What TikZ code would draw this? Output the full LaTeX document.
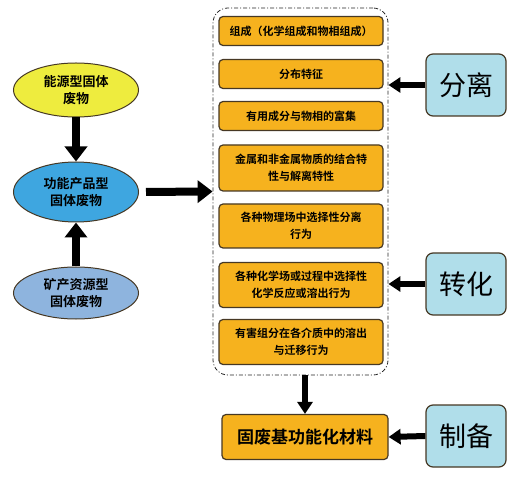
\documentclass[tikz,border=0pt]{standalone}
\usepackage{fontspec}
\usepackage{tikz}
\usetikzlibrary{arrows.meta, shapes.geometric}
\setmainfont{Noto Sans CJK SC}[BoldFont={Noto Sans CJK SC Bold}]

\definecolor{boxorange}{RGB}{246,178,30}
\definecolor{boxedge}{RGB}{70,56,36}
\definecolor{wasteyellow}{RGB}{238,236,62}
\definecolor{wasteblue}{RGB}{62,166,224}
\definecolor{wastegray}{RGB}{142,180,222}
\definecolor{stepblue}{RGB}{176,222,234}

\begin{document}
\begin{tikzpicture}[x = 1pt, y = -1pt, line width = 1pt,
                        waste/.style = {ellipse, draw = boxedge, minimum width = 125pt, align = center,
                                        font = \bfseries\fontsize{13}{17}\selectfont},
                        item/.style = {rectangle, rounded corners = 4pt, draw = boxedge, fill = boxorange,
                                       line width = 1.2pt, minimum width = 164pt, align = center,
                                       font = \bfseries\fontsize{11}{17}\selectfont},
                        stage/.style = {rectangle, rounded corners = 7pt, draw = boxedge, fill = stepblue,
                                        line width = 1.2pt, minimum width = 80pt, minimum height = 62pt,
                                        font = \fontsize{27}{30}\selectfont},
                        bigarrow/.style = {line width = 8pt, -{Triangle[width = 22pt, length = 15pt]}},
                        smallarrow/.style = {line width = 6pt, -{Triangle[width = 15pt, length = 12pt]}}]
      \useasboundingbox (0, 0) rectangle (519, 478);

      \node [waste, fill = wasteyellow, minimum height = 54pt] (energy) at (76, 90){能源型固体\\废物};
      \node [waste, fill = wasteblue, minimum height = 60pt] (product) at (76, 192){功能产品型\\固体废物};
      \node [waste, fill = wastegray, minimum height = 52pt] (mineral) at (76, 293){矿产资源型\\固体废物};

      \node [draw = black!85, rounded corners = 15pt, line width = 0.8pt,
             dash pattern = on 4pt off 2pt on 1pt off 2pt,
             minimum width = 175pt, minimum height = 367pt] (group) at (300.5, 191.5){};

      \node [item, minimum height = 29pt] (i1) at (301, 31){组成（化学组成和物相组成）};
      \node [item, minimum height = 29pt] (i2) at (301, 74){分布特征};
      \node [item, minimum height = 29pt] (i3) at (301, 116){有用成分与物相的富集};
      \node [item, minimum height = 46pt] (i4) at (301, 168){金属和非金属物质的结合特\\性与解离特性};
      \node [item, minimum height = 44pt] (i5) at (301, 226){各种物理场中选择性分离\\行为};
      \node [item, minimum height = 45pt] (i6) at (301, 285){各种化学场或过程中选择性\\化学反应或溶出行为};
      \node [item, minimum height = 45pt] (i7) at (301, 342){有害组分在各介质中的溶出\\与迁移行为};

      \node [item, minimum width = 166pt, minimum height = 45pt,
             font = \bfseries\fontsize{17}{20}\selectfont] (material) at (305, 437){固废基功能化材料};

      \node [stage] (separate) at (466, 85){分离};
      \node [stage] (convert) at (466, 284){转化};
      \node [stage] (prepare) at (466, 436){制备};

      \draw [bigarrow] (energy) -- (product);
      \draw [bigarrow] (mineral) -- (product);
      \draw [bigarrow, shorten <= 7pt] (product.east) -- (group.west);
      \draw [smallarrow] (group.south -| material.north) -- (material.north);

      \draw [smallarrow] (separate.west) -- (group.east |- separate.west);
      \draw [smallarrow] (convert.west) -- (group.east |- convert.west);
      \draw [smallarrow] (prepare.west) -- (material.east);

      \end{tikzpicture}
\end{document}
